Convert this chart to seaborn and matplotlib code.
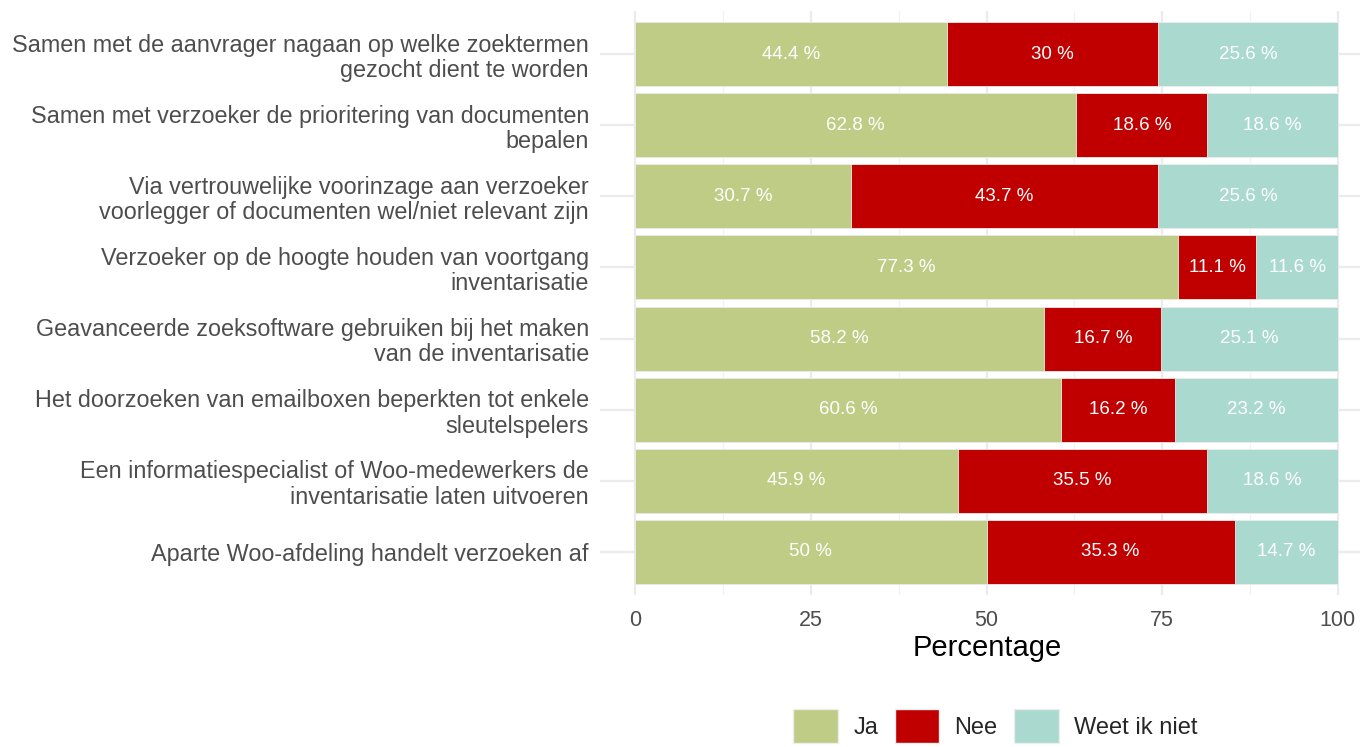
import matplotlib
matplotlib.use("Agg")
import matplotlib.pyplot as plt
from matplotlib.patches import Patch
import seaborn as sns
import pandas as pd
import numpy as np

categories = [
    "Samen met de aanvrager nagaan op welke zoektermen\ngezocht dient te worden",
    "Samen met verzoeker de prioritering van documenten\nbepalen",
    "Via vertrouwelijke voorinzage aan verzoeker\nvoorlegger of documenten wel/niet relevant zijn",
    "Verzoeker op de hoogte houden van voortgang\ninventarisatie",
    "Geavanceerde zoeksoftware gebruiken bij het maken\nvan de inventarisatie",
    "Het doorzoeken van emailboxen beperkten tot enkele\nsleutelspelers",
    "Een informatiespecialist of Woo-medewerkers de\ninventarisatie laten uitvoeren",
    "Aparte Woo-afdeling handelt verzoeken af",
]
ja = [44.4, 62.8, 30.7, 77.3, 58.2, 60.6, 45.9, 50]
nee = [30, 18.6, 43.7, 11.1, 16.7, 16.2, 35.5, 35.3]
weet = [25.6, 18.6, 25.6, 11.6, 25.1, 23.2, 18.6, 14.7]
series = ["Ja", "Nee", "Weet ik niet"]
colors = ["#BFCC85", "#C00000", "#AAD9CF"]
xticks = [0, 25, 50, 75, 100]

sns.set_theme(style="white")
plt.rcParams["font.family"] = ["Liberation Sans", "DejaVu Sans"]

df = pd.DataFrame({"cat": categories, "Ja": ja, "Nee": nee, "Weet ik niet": weet})
df["c1"] = df["Ja"]
df["c2"] = df["Ja"] + df["Nee"]
df["c3"] = df["c2"] + df["Weet ik niet"]

fig = plt.figure(figsize=(13.6, 7.47), dpi=100)
W, H = 1360, 747
left_px, right_px = 600, 1373
top_px, bot_px = 11.4, 594.6
ax = fig.add_axes([left_px / W, 1 - bot_px / H, (right_px - left_px) / W, (bot_px - top_px) / H])

for col, c in zip(["c3", "c2", "c1"], colors[::-1]):
    sns.barplot(data=df, x=col, y="cat", color=c, orient="h", width=0.9,
                edgecolor="#EDEDED", linewidth=0.6, ax=ax, zorder=3, saturation=1)

ax.set_xlim(-5, 105)
ax.set_ylim(7.6, -0.6)
ax.grid(False)
for v in xticks:
    ax.axvline(v, color="#EBEBEB", lw=1.6, zorder=0)
for v in np.arange(12.5, 100, 25):
    ax.axvline(v, color="#F2F2F2", lw=0.9, zorder=0)
for i in range(len(categories)):
    ax.axhline(i, color="#EBEBEB", lw=1.6, zorder=0)

for s in ax.spines.values():
    s.set_visible(False)

# labels
for i in range(len(categories)):
    starts = [0, df["c1"][i], df["c2"][i]]
    vals = [ja[i], nee[i], weet[i]]
    for st, v in zip(starts, vals):
        ax.text(st + v / 2, i, f"{v:g} %", ha="center", va="center",
                color="white", fontsize=13.5, zorder=5)

ax.set_xticks(xticks)
ax.set_xticklabels([str(t) for t in xticks])
ax.tick_params(axis="x", which="both", length=0, pad=11, labelsize=15.5, labelcolor="#4D4D4D")
ax.tick_params(axis="y", length=0, pad=8, labelsize=16.8, labelcolor="#4D4D4D")
for lbl in ax.get_yticklabels():
    lbl.set_horizontalalignment("right")
    lbl.set_multialignment("right")
    lbl.set_linespacing(1.13)
ax.set_ylabel("")
ax.set_xlabel("Percentage", fontsize=21, color="black")
ax.xaxis.set_label_coords((987 - left_px) / (right_px - left_px), -(648 - bot_px) / (bot_px - top_px))
ax.xaxis.label.set_verticalalignment("center")

handles = [Patch(facecolor=c, edgecolor="#EDEDED", label=s) for s, c in zip(series, colors)]
leg = fig.legend(handles=handles, loc="center", bbox_to_anchor=(995.5 / W, 1 - 726 / H),
                 ncol=3, frameon=False, fontsize=17, handlelength=1.9, handleheight=1.9,
                 handletextpad=0.64, columnspacing=0.7, borderpad=0, borderaxespad=0)

fig.savefig("out.png", dpi=100)
